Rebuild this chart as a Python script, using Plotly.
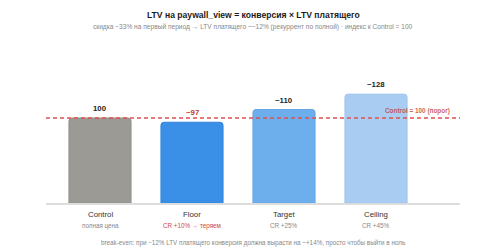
import plotly.graph_objects as go

categories = ["Control", "Floor", "Target", "Ceiling"]
ltv_index = [100, 95, 110, 128]
value_labels = ["100", "~97", "~110", "~128"]
sub_labels = ["полная цена", "CR +10% → теряем", "CR +25%", "CR +45%"]
bar_colors = ["#9b9a95", "#3a8fe6", "#6cafec", "#a9cdf2"]
line_colors = ["#8f8e89", "#3384dc", "#62a5e4", "#9cc3ec"]
label_colors = ["#222222", "#c0392b", "#222222", "#222222"]
sub_colors = ["#888888", "#d04545", "#888888", "#888888"]
threshold = 100

W, H = 500, 250
ML, MR, MT, MB = 46, 40, 76, 47
PH = H - MT - MB
PX_PER_UNIT = 0.85
ymax = PH / PX_PER_UNIT


def py(pix):
    return (H - MB - pix) / PH


FONT = "Liberation Sans, Arial, sans-serif"

fig = go.Figure()
fig.add_trace(go.Bar(
    x=list(range(len(categories))), y=ltv_index, width=0.675,
    marker=dict(color=bar_colors, line=dict(color=line_colors, width=1)),
    hoverinfo="skip", showlegend=False,
))

ann = []
for i, (v, t, c) in enumerate(zip(ltv_index, value_labels, label_colors)):
    ann.append(dict(x=i, y=v, xref="x", yref="y", text="<b>%s</b>" % t, showarrow=False,
                    yanchor="bottom", yshift=3, font=dict(size=7.8, color=c, family=FONT)))
for i, (name, sub, sc) in enumerate(zip(categories, sub_labels, sub_colors)):
    ann.append(dict(x=i, y=py(214.5), xref="x", yref="paper", text=name, showarrow=False,
                    yanchor="middle", font=dict(size=7.8, color="#333333", family=FONT)))
    ann.append(dict(x=i, y=py(225.5), xref="x", yref="paper", text=sub, showarrow=False,
                    yanchor="middle", font=dict(size=6.3, color=sc, family=FONT)))

ann.append(dict(x=0.5, y=py(14.5), xref="paper", yref="paper",
                text="<b>LTV на paywall_view = конверсия × LTV платящего</b>", showarrow=False,
                yanchor="middle", xanchor="center", font=dict(size=8.6, color="#1a1a1a", family=FONT)))
ann.append(dict(x=0.5, y=py(26.5), xref="paper", yref="paper",
                text="скидка −33% на первый период → LTV платящего ~−12% (рекуррент по полной) · индекс к Control = 100",
                showarrow=False, yanchor="middle", xanchor="center",
                font=dict(size=6.6, color="#888888", family=FONT)))
ann.append(dict(x=0.5, y=py(243), xref="paper", yref="paper",
                text="break-even: при −12% LTV платящего конверсия должна вырасти на ~+14%, просто чтобы выйти в ноль",
                showarrow=False, yanchor="middle", xanchor="center",
                font=dict(size=6.3, color="#888888", family=FONT)))
ann.append(dict(x=0.98, y=threshold, xref="paper", yref="y",
                text="<b>Control = 100 (порог)</b>", showarrow=False, yanchor="bottom", xanchor="right",
                yshift=1, font=dict(size=6.4, color="rgba(192,57,43,0.8)", family=FONT)))

fig.add_shape(type="line", xref="paper", yref="y", x0=0, x1=1, y0=threshold, y1=threshold,
              line=dict(color="#e05050", width=1.3, dash="4px,3px"))

fig.update_layout(
    width=W, height=H, margin=dict(l=ML, r=MR, t=MT, b=MB),
    paper_bgcolor="white", plot_bgcolor="white",
    barcornerradius=3,
    annotations=ann,
    xaxis=dict(range=[-0.587, 3.913], showticklabels=False, showgrid=False, zeroline=False,
               showline=True, linecolor="#dddddd", linewidth=2, ticks=""),
    yaxis=dict(range=[0, ymax], visible=False, showgrid=False, zeroline=False),
    font=dict(family=FONT),
)

fig.write_html("out.html")
